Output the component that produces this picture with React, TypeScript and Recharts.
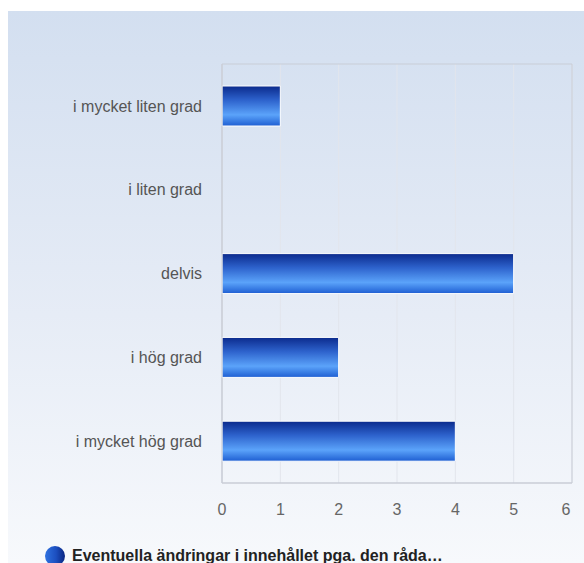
import React from 'react';
import { BarChart, Bar, XAxis, YAxis, CartesianGrid, Legend, ReferenceArea } from 'recharts';

const categories = ['i mycket liten grad', 'i liten grad', 'delvis', 'i hög grad', 'i mycket hög grad'];
const counts = [1, 0, 5, 2, 4];
const xTicks = [0, 1, 2, 3, 4, 5, 6];
const seriesName = 'Eventuella ändringar i innehållet pga. den råda…';

const data = categories.map((c, i) => ({ name: c, value: counts[i] }));

const FONT = '"Liberation Sans", Arial, sans-serif';

const LegendContent = () => (
  <div style={{ display: 'flex', alignItems: 'center', fontFamily: FONT }}>
    <svg width={20} height={20} style={{ marginRight: 7 }}>
      <defs>
        <linearGradient id="legDot" x1="0" y1="0" x2="1" y2="0">
          <stop offset="0%" stopColor="#2f72e0" />
          <stop offset="55%" stopColor="#1c4fc0" />
          <stop offset="100%" stopColor="#0a2580" />
        </linearGradient>
      </defs>
      <circle cx={10} cy={10} r={10} fill="url(#legDot)" />
    </svg>
    <span style={{ fontSize: 16, fontWeight: 'bold', color: '#222', whiteSpace: 'nowrap' }}>{seriesName}</span>
  </div>
);

// last label is pulled inside the panel, like the original
const XTick = (props: any) => {
  const { x, y, payload } = props;
  const last = payload.value === xTicks[xTicks.length - 1];
  return (
    <text
      x={last ? x - 6 : x}
      y={y}
      dy="0.71em"
      textAnchor="middle"
      fontSize={16}
      fill="#666"
      fontFamily={FONT}
    >
      {payload.value}
    </text>
  );
};

export default function App() {
  return (
    <div style={{ position: 'relative', width: 584, height: 563, overflow: 'hidden', background: '#fff' }}>
      <style>{`body{margin:0;overflow:hidden}`}</style>
      <div
        style={{
          position: 'absolute',
          left: 8,
          top: 11,
          right: 0,
          bottom: 0,
          background: 'linear-gradient(to bottom, #d3dff0 0%, #e6ecf6 55%, #f7f9fc 100%)',
        }}
      />
      <div style={{ position: 'absolute', left: 0, top: 0 }}>
        <BarChart
          width={584}
          height={563}
          data={data}
          layout="vertical"
          margin={{ top: 64, right: 12, left: 0, bottom: 20 }}
        >
          <defs>
            <linearGradient id="barFill" x1="0" y1="0" x2="0" y2="1">
              <stop offset="0%" stopColor="#0b2a8c" />
              <stop offset="35%" stopColor="#2d62cc" />
              <stop offset="72%" stopColor="#5ba3fa" />
              <stop offset="100%" stopColor="#1e5ed2" />
            </linearGradient>
          </defs>
          <CartesianGrid horizontal={false} stroke="#e2e5ec" />
          <ReferenceArea x1={0} x2={6} fill="none" stroke="#c9cdd6" strokeWidth={1} />
          <XAxis
            type="number"
            domain={[0, 6]}
            ticks={xTicks}
            tickLine={false}
            axisLine={{ stroke: '#c9cdd6' }}
            tickMargin={15}
            height={40}
            tick={<XTick />}
            interval={0}
          />
          <YAxis
            type="category"
            dataKey="name"
            width={222}
            tickLine={false}
            axisLine={{ stroke: '#c9cdd6' }}
            tickMargin={14}
            tick={{ fontSize: 16, fill: '#555', fontFamily: FONT }}
            interval={0}
          />
          <Legend
            verticalAlign="bottom"
            align="left"
            content={<LegendContent />}
            wrapperStyle={{ left: 45, top: 546, width: 520 }}
          />
          <Bar
            dataKey="value"
            name={seriesName}
            fill="url(#barFill)"
            stroke="#ffffff"
            strokeWidth={1}
            barSize={40}
            isAnimationActive={false}
          />
        </BarChart>
      </div>
    </div>
  );
}
